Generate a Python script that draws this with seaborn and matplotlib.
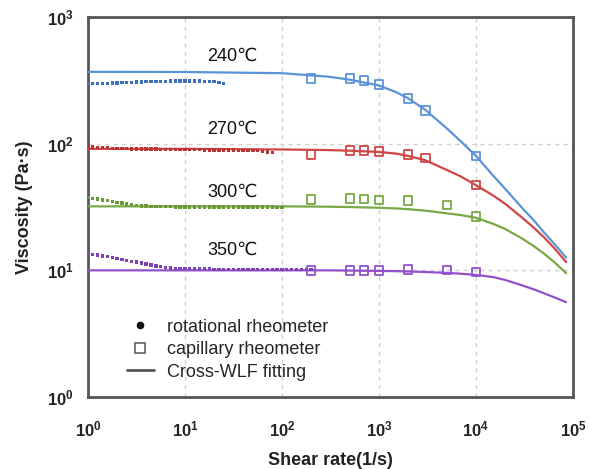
import numpy as np
import pandas as pd
import matplotlib
matplotlib.use("Agg")
import matplotlib.pyplot as plt
from matplotlib.lines import Line2D
import seaborn as sns

# ---------------- data ----------------
temps = ["240℃", "270℃", "300℃", "350℃"]

rot_rate = [1.00, 1.12, 1.26, 1.41, 1.58, 1.78, 2.00, 2.24, 2.51, 2.82,
            3.16, 3.55, 3.98, 4.47, 5.01, 5.62, 6.31, 7.08, 7.94, 8.91,
            10.0, 11.2, 12.6, 14.1, 15.8, 17.8, 20.0, 22.4, 25.1, 28.2,
            31.6, 35.5, 39.8, 44.7, 50.1, 56.2, 63.1, 70.8, 79.4, 89.1,
            100, 112, 126, 141, 158, 178, 200]

rot_240 = [296, 297, 298, 299, 300, 301, 302, 303, 304, 305, 306, 307, 308, 309,
           310, 311, 311, 312, 312, 313, 313, 313, 312, 312, 311, 310, 308, 305, 300]
rot_270 = [94, 94, 93, 93, 93, 92, 92, 92, 92, 91, 91, 91, 91, 91, 91,
           90, 90, 90, 90, 90, 90, 90, 90, 90, 89, 89, 89, 89, 89, 89, 89,
           88, 88, 88, 88, 88, 87, 86, 85]
rot_300 = [37.5, 37, 36.5, 36, 35.5, 35, 34.5, 34, 33.5, 33, 32.5,
           32.3, 32.1, 32.0, 31.9, 31.8, 31.8, 31.8, 31.7, 31.7, 31.7,
           31.7, 31.7, 31.7, 31.7, 31.7, 31.7, 31.7, 31.7, 31.7, 31.7,
           31.7, 31.7, 31.6, 31.6, 31.6, 31.6, 31.6, 31.6, 31.5, 31.5]
rot_350 = [13.6, 13.4, 13.2, 13.0, 12.8, 12.6, 12.4, 12.2, 12.0, 11.8, 11.6, 11.4,
           11.2, 11.0, 10.8, 10.7, 10.5, 10.4,
           10.3, 10.3, 10.3, 10.3, 10.3, 10.3, 10.3, 10.3, 10.2, 10.2, 10.2, 10.2,
           10.2, 10.2, 10.2, 10.2, 10.2, 10.2, 10.2, 10.2, 10.2, 10.2, 10.2, 10.2,
           10.1, 10.1, 10.1, 10.1, 10.1]

cap_rate_240 = [200, 500, 700, 1000, 2000, 3000, 10000]
cap_240 = [328, 328, 316, 294, 228, 183, 80]
cap_rate_270 = [200, 500, 700, 1000, 2000, 3000, 10000]
cap_270 = [82, 88, 88, 87, 82, 77, 47]
cap_rate_300 = [200, 500, 700, 1000, 2000, 5000, 10000]
cap_300 = [36.2, 37.0, 36.7, 36.0, 35.6, 32.9, 26.7]
cap_rate_350 = [200, 500, 700, 1000, 2000, 5000, 10000]
cap_350 = [10.0, 10.0, 10.0, 10.0, 10.2, 10.1, 9.7]

fit_rate = [1, 10, 100, 300, 500, 1000, 1500, 2000, 3000, 5000, 7000, 10000,
            15000, 20000, 30000, 40000, 50000, 65000, 85000]
fit_240 = [369, 368, 360, 338, 320, 288, 255, 228, 185, 132, 104, 80,
           56, 44, 31, 24.5, 20, 16, 12.6]
fit_270 = [91, 91, 90, 89, 88, 86, 83.5, 80, 74, 62, 55, 47,
           39, 33.5, 26, 21.5, 18.3, 14.8, 11.6]
fit_300 = [32, 32, 32, 31.8, 31.6, 31.2, 30.8, 30.4, 29.6, 28.2, 27.3, 26,
           23.3, 21.2, 17.8, 15.4, 13.6, 11.5, 9.5]
fit_350 = [10, 10, 10, 10, 9.95, 9.9, 9.85, 9.8, 9.7, 9.55, 9.4, 9.2,
           8.85, 8.4, 7.6, 7.05, 6.6, 6.1, 5.6]

xtick_vals = [1, 10, 100, 1000, 10000, 100000]
xtick_labels = [r"$\mathbf{10^{0}}$", r"$\mathbf{10^{1}}$", r"$\mathbf{10^{2}}$",
                r"$\mathbf{10^{3}}$", r"$\mathbf{10^{4}}$", r"$\mathbf{10^{5}}$"]
ytick_vals = [1, 10, 100, 1000]
ytick_labels = [r"$\mathbf{10^{0}}$", r"$\mathbf{10^{1}}$", r"$\mathbf{10^{2}}$",
                r"$\mathbf{10^{3}}$"]
legend_labels = ["rotational rheometer", "capillary rheometer", "Cross-WLF fitting"]

# ---------------- frames ----------------
rot_vals = [rot_240, rot_270, rot_300, rot_350]
cap_rates = [cap_rate_240, cap_rate_270, cap_rate_300, cap_rate_350]
cap_vals = [cap_240, cap_270, cap_300, cap_350]
fit_vals = [fit_240, fit_270, fit_300, fit_350]

rot_df = pd.concat([pd.DataFrame({"rate": rot_rate[:len(v)], "eta": v, "T": t})
                    for t, v in zip(temps, rot_vals)], ignore_index=True)
cap_df = pd.concat([pd.DataFrame({"rate": r, "eta": v, "T": t})
                    for t, r, v in zip(temps, cap_rates, cap_vals)], ignore_index=True)
fit_df = pd.concat([pd.DataFrame({"rate": fit_rate, "eta": v, "T": t})
                    for t, v in zip(temps, fit_vals)], ignore_index=True)

line_colors = {"240℃": "#5b93d8", "270℃": "#d04545", "300℃": "#7aa844", "350℃": "#9250cc"}
dot_colors = {"240℃": "#3d6fb8", "270℃": "#b83434", "300℃": "#6a9a38", "350℃": "#7b42b3"}

# ---------------- plot ----------------
sns.set_theme(style="white")
plt.rcParams["font.family"] = ["Liberation Sans", "DejaVu Sans"]
plt.rcParams["mathtext.fontset"] = "custom"
plt.rcParams["mathtext.rm"] = "Liberation Sans:bold"
plt.rcParams["mathtext.bf"] = "Liberation Sans:bold"
plt.rcParams["mathtext.it"] = "Liberation Sans:bold:italic"

fig = plt.figure(figsize=(5.89, 4.69), dpi=100)
ax = fig.add_axes([88 / 589, 1 - 397 / 469, (573 - 88) / 589, (397 - 17) / 469])
ax.set_xscale("log")
ax.set_yscale("log")

sns.lineplot(data=fit_df, x="rate", y="eta", hue="T", palette=line_colors,
             linewidth=1.6, legend=False, ax=ax, zorder=3)
sns.scatterplot(data=rot_df, x="rate", y="eta", hue="T", palette=dot_colors,
                marker="s", s=6, linewidth=0, legend=False, ax=ax, zorder=4)
sns.scatterplot(data=cap_df, x="rate", y="eta", hue="T", palette=line_colors,
                marker="s", s=38, facecolor="none", linewidth=1.3,
                legend=False, ax=ax, zorder=5)
coll = ax.collections[-1]
coll.set_edgecolors([line_colors[t] for t in cap_df["T"]])
coll.set_facecolors("none")

ax.set_xlim(1, 1e5)
ax.set_ylim(1, 1e3)
ax.set_xticks(xtick_vals)
ax.set_xticklabels(xtick_labels)
ax.set_yticks(ytick_vals)
ax.set_yticklabels(ytick_labels)
ax.minorticks_off()
ax.tick_params(axis="x", labelsize=12, length=0, pad=16, colors="#222222")
ax.tick_params(axis="y", labelsize=12, length=0, pad=10, colors="#222222")

ax.grid(True, which="major", color="#d0d0d0", linestyle=(0, (3, 3)), linewidth=1.0)
for sp in ax.spines.values():
    sp.set_color("#555555")
    sp.set_linewidth(2)
    sp.set_visible(True)

ax.set_xlabel("Shear rate(1/s)", fontsize=13, fontweight="bold", labelpad=9, color="#222222")
ax.set_ylabel("Viscosity (Pa·s)", fontsize=13, fontweight="bold", labelpad=10, color="#222222")

# temperature labels
label_pos = [(31, 493), (31, 131), (31, 41), (31, 14.4)]
for t, (xx, yy) in zip(temps, label_pos):
    ax.text(xx, yy, t, fontsize=13, ha="center", va="center", color="#111111")

handles = [
    Line2D([], [], linestyle="none", marker="o", markersize=4.5, color="#111111"),
    Line2D([], [], linestyle="none", marker="s", markersize=6.5, markerfacecolor="none",
           markeredgecolor="#555555", markeredgewidth=1.1),
    Line2D([], [], color="#555555", linewidth=2),
]
ax.legend(handles, legend_labels, loc="upper left", bbox_to_anchor=(0.065, 0.225),
          frameon=False, fontsize=13, handlelength=1.5, handletextpad=0.75,
          labelspacing=0.3, borderaxespad=0)

fig.savefig("out.png", dpi=100)
